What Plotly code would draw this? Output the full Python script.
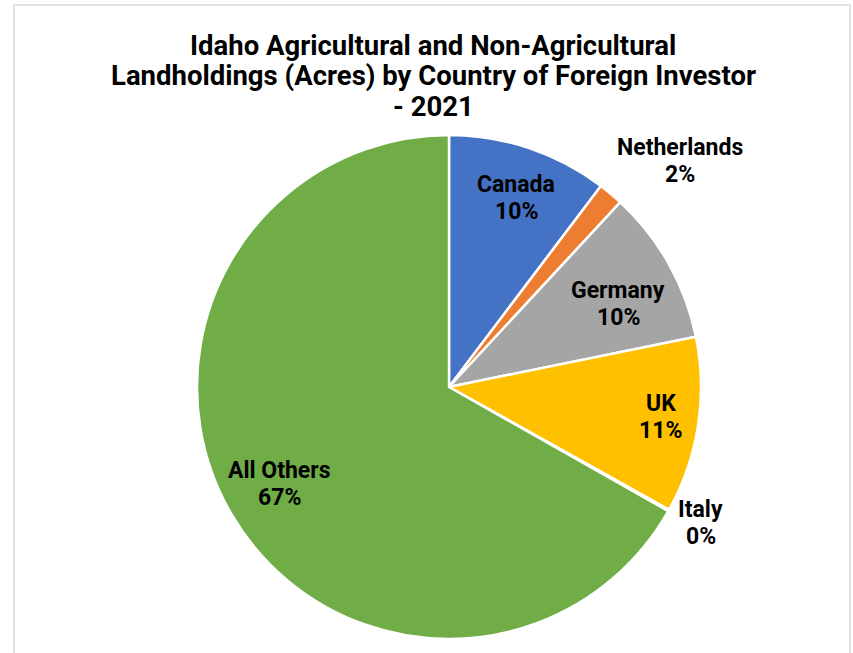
import math
import plotly.graph_objects as go

# Share of foreign-held acres by investor country (percent)
countries = ["Canada", "Netherlands", "Germany", "UK", "Italy", "All Others"]
shares = [10.3, 1.6, 9.9, 11.3, 0.1, 66.8]
colors = ["#4472C4", "#ED7D31", "#A5A5A5", "#FFC000", "#5B9BD5", "#70AD47"]
# label placement: radius as a fraction of the pie radius, and a small
# angular nudge (degrees) away from each slice's mid-angle
label_radius = [0.796, 1.283, 0.747, 0.849, 1.135, 0.775]
label_nudge = [1.0, 5.6, 3.3, -0.7, -0.9, 0.5]

title_lines = [
    "Idaho Agricultural and Non-Agricultural",
    "Landholdings (Acres) by Country of Foreign Investor",
    "- 2021",
]

W, H = 853, 653
cx, cy_top, R = 449, 387, 252
cy = H - cy_top

fig = go.Figure(go.Pie(
    labels=countries,
    values=shares,
    sort=False,
    direction="clockwise",
    rotation=0,
    marker=dict(colors=colors, line=dict(color="white", width=2.5)),
    textinfo="none",
    hoverinfo="label+percent",
    showlegend=False,
    domain=dict(x=[(cx - R) / W, (cx + R) / W], y=[(cy - R) / H, (cy + R) / H]),
))

label_font = dict(family="Roboto", size=23, color="black")
total = sum(shares)
acc = 0.0
for name, v, rf, nudge in zip(countries, shares, label_radius, label_nudge):
    mid = (acc + v / 2) / total * 2 * math.pi + math.radians(nudge)
    acc += v
    x = cx + rf * R * math.sin(mid)
    y = cy + rf * R * math.cos(mid)
    pct = int(math.floor(v / total * 100 + 0.5))
    for txt, dy in ((name, 13.5), (f"{pct}%", -13.5)):
        fig.add_annotation(
            x=x / W, y=(y + dy) / H, xref="paper", yref="paper",
            text=f"<b>{txt}</b>", showarrow=False,
            font=label_font, xanchor="center", yanchor="middle",
        )

for i, line in enumerate(title_lines):
    fig.add_annotation(
        x=433 / W, y=1 - (45 + 30.5 * i) / H, xref="paper", yref="paper",
        text=f"<b>{line}</b>", showarrow=False,
        xanchor="center", yanchor="middle",
        font=dict(family="Roboto", size=27.5, color="black"),
    )

# chart area frame
fig.add_shape(type="rect", xref="paper", yref="paper",
              x0=14 / W, x1=850 / W, y0=-0.02, y1=1 - 5 / H,
              line=dict(color="#D9D9D9", width=1.5), fillcolor="rgba(0,0,0,0)")

fig.update_layout(
    width=W, height=H,
    margin=dict(l=0, r=0, t=0, b=0),
    paper_bgcolor="white", plot_bgcolor="white",
)

fig.write_html("out.html")
